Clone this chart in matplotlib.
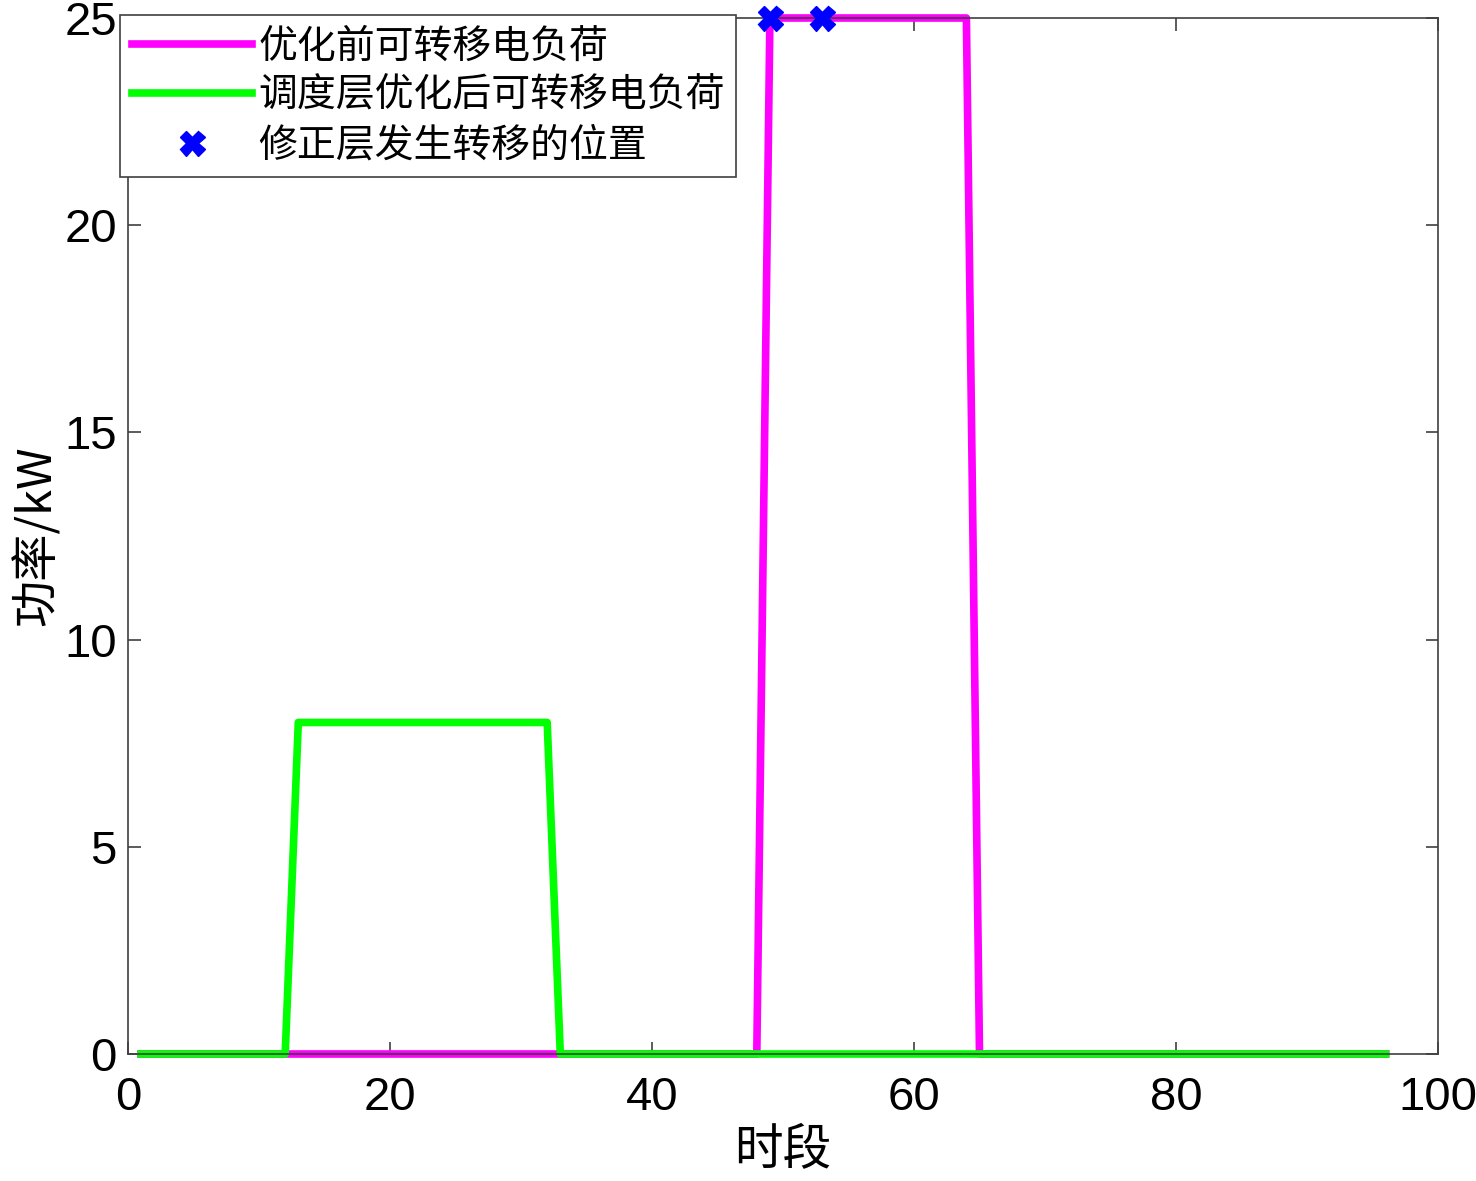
import numpy as np
import matplotlib.pyplot as plt

plt.rcParams['font.family'] = ['Liberation Sans', 'Noto Sans CJK SC', 'DejaVu Sans']

# time slots and loads
t = np.arange(1, 97)
before = np.zeros(len(t))
before[(t >= 49) & (t <= 64)] = 25
after = np.zeros(len(t))
after[(t >= 13) & (t <= 32)] = 8
shift_x = [49, 53]
shift_y = [25, 25]

labels = ['优化前可转移电负荷', '调度层优化后可转移电负荷', '修正层发生转移的位置']

fig = plt.figure(figsize=(14.76, 11.81), dpi=100)
ax = fig.add_axes([128/1476, 1 - 1054/1181, 1310/1476, 1036/1181])

ax.plot(t, before, color='#ff00ff', lw=5.5, label=labels[0], clip_on=False)
ax.plot(t, after, color='#00ff00', lw=5.5, label=labels[1], clip_on=False)
ax.plot(shift_x, shift_y, ls='none', marker='X', ms=18, color='#0000ff',
        mec='#0000ff', label=labels[2], clip_on=False, zorder=5)

ax.set_xlim(0, 100)
ax.set_ylim(0, 25)
ax.set_xticks([0, 20, 40, 60, 80, 100])
ax.set_yticks([0, 5, 10, 15, 20, 25])
ax.tick_params(direction='in', top=True, right=True, length=9, width=1.2,
               color='#404040', labelsize=34, pad=8)
ax.tick_params(axis='x', pad=16)
for s in ax.spines.values():
    s.set_color('#404040')
    s.set_linewidth(1.2)

ax.set_xlabel('时段', fontsize=35, family=['Noto Sans CJK SC'], labelpad=4)
ax.set_ylabel('功率/kW', fontsize=34, family=['Noto Sans CJK SC'], labelpad=2)

leg = ax.legend(loc='upper left', bbox_to_anchor=(-0.006, 1.003),
                prop={'family': ['Noto Sans CJK SC'], 'size': 28},
                handlelength=3.1, handletextpad=0.15, labelspacing=0.24,
                borderpad=0.3, borderaxespad=0, fancybox=False,
                framealpha=1, edgecolor='#404040')
leg.get_frame().set_linewidth(1.2)

fig.savefig('out.png', dpi=100)
